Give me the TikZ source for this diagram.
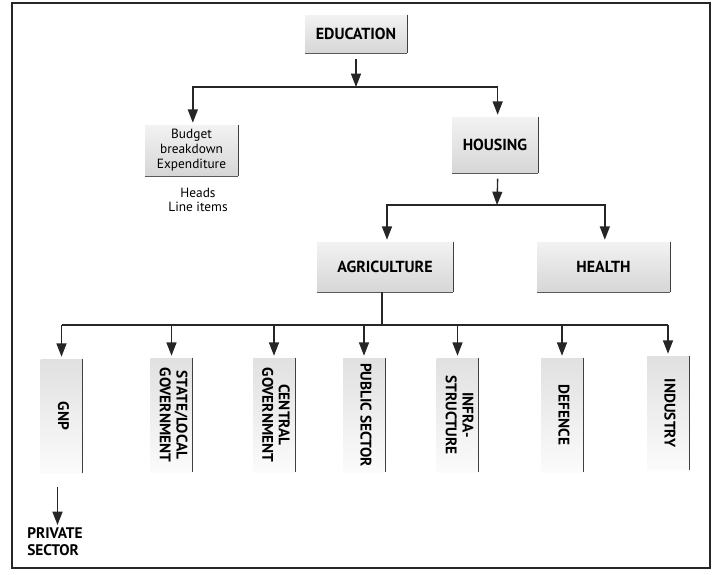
\documentclass[tikz,border=0pt]{standalone}
\usepackage{fontspec}
\setmainfont{PT Sans}
\usetikzlibrary{arrows.meta}
\newcommand{\vlabel}[1]{\rotatebox{-90}{\begin{tabular}{@{}c@{}}#1\end{tabular}}}
\begin{document}
\begin{tikzpicture}[x=0.75pt,y=-0.75pt,
  conn/.style={line width=1pt, draw=black!85},
  arr/.style={conn, -{Triangle[width=7.5pt,length=10pt]}, shorten >=1.5pt},
  rim/.style={draw=black!75, line width=0.9pt},
  rimb/.style={draw=gray!70!black, line width=0.7pt},
  gbox/.style={top color=gray!10, bottom color=gray!32, draw=none, inner sep=0pt,
    font=\bfseries\fontsize{12}{14}\selectfont,
    append after command={(\tikzlastnode.north east) edge[rim] (\tikzlastnode.south east)
      (\tikzlastnode.south west) edge[rimb] (\tikzlastnode.south east)}},
  vbox/.style={top color=gray!24, bottom color=gray!3, draw=none, inner sep=0pt,
    minimum width=31.5pt, minimum height=85.5pt,
    font=\bfseries\fontsize{11.5}{12.5}\selectfont,
    append after command={(\tikzlastnode.north east) edge[rim] (\tikzlastnode.south east)}},
  plain/.style={inner sep=0pt, align=center}
]
\useasboundingbox (0,0) rectangle (719,575);
\node[draw=black!85, line width=0.9pt, minimum width=523.5pt, minimum height=423.75pt, inner sep=0pt] (frame) at (361,285.5) {};

\node[gbox, minimum width=76.5pt, minimum height=28.5pt] (edu) at (356,34) {EDUCATION};
\node[gbox, font=\fontsize{10}{11.25}\selectfont, align=center, minimum width=69.75pt, minimum height=38.25pt] (budget) at (191.5,150.5) {Budget\\breakdown\\Expenditure};
\node[plain, font=\fontsize{10}{10.5}\selectfont] (heads) at (198,200) {Heads\\Line items};
\node[gbox, minimum width=64.5pt, minimum height=42pt] (housing) at (495,145) {HOUSING};
\node[gbox, minimum width=102pt, minimum height=37.5pt] (agri) at (385,267) {AGRICULTURE};
\node[gbox, minimum width=99.75pt, minimum height=37.5pt] (health) at (603.5,267) {HEALTH};

\node[vbox] (gnp) at (61.5,416) {\vlabel{GNP}};
\node[vbox] (state) at (171.5,415) {\vlabel{STATE/LOCAL\\GOVERNMENT}};
\node[vbox] (central) at (274,415) {\vlabel{CENTRAL\\GOVERNMENT}};
\node[vbox] (public) at (364,415) {\vlabel{PUBLIC SECTOR}};
\node[vbox] (infra) at (457.5,415) {\vlabel{INFRA-\\STRUCTURE}};
\node[vbox] (defence) at (562,415) {\vlabel{DEFENCE}};
\node[vbox] (industry) at (668,413) {\vlabel{INDUSTRY}};

\node[plain, align=left, anchor=north west, font=\bfseries\fontsize{11.5}{13}\selectfont] (private) at (27,527) {PRIVATE\\SECTOR};

% level 1
\coordinate (b1) at (356,87);
\draw[arr, shorten >=0pt] ([yshift=-4pt]edu.south) -- (b1);
\draw[arr] (b1) -| ([xshift=1pt]budget.north);
\draw[arr] (b1) -| ([xshift=2pt]housing.north);
% level 2
\coordinate (b2) at (497,205);
\draw[arr, shorten >=0pt] ([xshift=2pt,yshift=-4pt]housing.south) -- (b2);
\draw[arr] (b2) -| ([xshift=1.5pt]agri.north);
\draw[arr] (b2) -| ([xshift=1pt]health.north);
% level 3
\coordinate (b3) at (382,325);
\draw[conn] ([xshift=-2.25pt]agri.south) -- (b3);
\draw[conn] (b3 -| gnp.north) -- (b3 -| industry.north);
\foreach \n in {gnp,state,central,public,infra,defence,industry}{
  \draw[arr] (b3 -| \n.north) -- (\n.north);
}
\coordinate (gnpout) at ([xshift=-3pt,yshift=-10pt]gnp.south);
\draw[arr] (gnpout) -- (gnpout |- private.north);
\end{tikzpicture}
\end{document}
